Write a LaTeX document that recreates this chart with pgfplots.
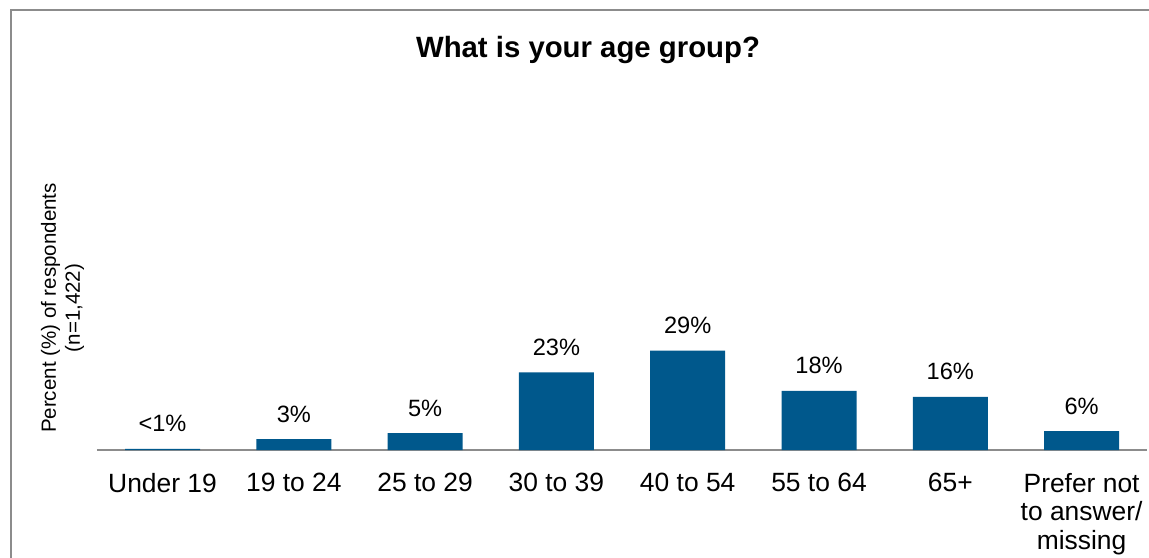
\documentclass[border=0pt]{standalone}
\usepackage{pgfplots}
\pgfplotsset{compat=1.18}
\usepackage{fontspec}
\setmainfont{Liberation Sans}
\definecolor{barblue}{RGB}{0,88,140}
\definecolor{framegray}{RGB}{140,140,140}
\definecolor{axisgray}{RGB}{140,140,140}
\begin{document}
\begin{tikzpicture}
\useasboundingbox (0,0) rectangle (861.75pt,-417.75pt);
\draw[framegray, line width=1.5pt] (8.25pt,-430pt) -- (8.25pt,-7.5pt) -- (870pt,-7.5pt);
\begin{axis}[
  at={(72.64pt,-337.5pt)}, anchor=south west,
  scale only axis, width=787.8pt, height=101.4pt,
  xmin=-0.5, xmax=7.5, ymin=0, ymax=40,
  axis x line*=bottom, axis y line=none,
  axis line style={axisgray, line width=1.5pt},
  ybar, bar width=56.25pt,
  xtick={0,...,7},
  xticklabels={{Under 19},{19 to 24},{25 to 29},{30 to 39},{40 to 54},{55 to 64},{65+},{Prefer not\\to answer/\\missing}},
  major tick length=0pt,
  ytick=\empty,
  xticklabel style={font=\fontsize{19.8}{21.4}\selectfont, align=center, anchor=north, inner sep=0pt, yshift=-17pt},
  nodes near coords,
  point meta=explicit symbolic,
  every node near coord/.append style={font=\fontsize{17.7}{20}\selectfont, anchor=base, inner sep=0pt, yshift=12.75pt, text=black},
]
\addplot[fill=barblue, draw=none] coordinates {
  (0,0.3) [{<1\%}]
  (1,3.2) [3\%]
  (2,5.0) [5\%]
  (3,23.0) [23\%]
  (4,29.4) [29\%]
  (5,17.5) [18\%]
  (6,15.7) [16\%]
  (7,5.6) [6\%]
};
\end{axis}
\node[font=\fontsize{22}{26}\selectfont\bfseries, anchor=base] at (441pt,-42.98pt) {What is your age group?};
\node[rotate=90, align=center, font=\fontsize{15.4}{18}\selectfont] at (47pt,-231pt) {Percent (\%) of respondents\\(n=1,422)};
\end{tikzpicture}
\end{document}
